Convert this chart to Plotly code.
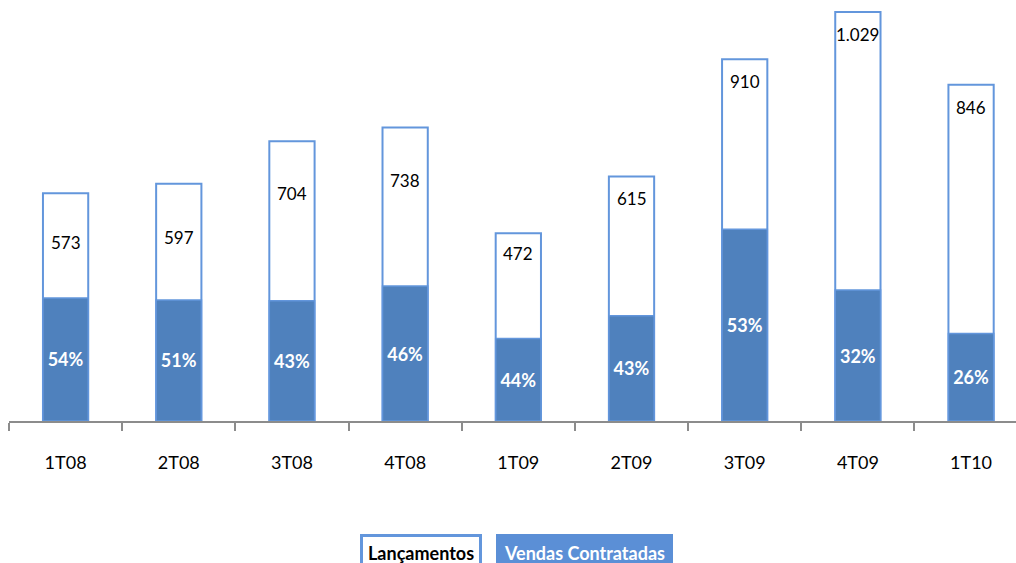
import plotly.graph_objects as go

# Quarterly launches (R$ million) and share of contracted sales
quarters = ["1T08", "2T08", "3T08", "4T08", "1T09", "2T09", "3T09", "4T09", "1T10"]
lancamentos = [573, 597, 704, 738, 472, 615, 910, 1029, 846]
vendas_pct = [54, 51, 43, 46, 44, 43, 53, 32, 26]

# Launch-value label drop below the top of each bar (px)
label_drop = [49, 54, 52, 53, 20, 22, 22, 23, 23]

BLUE = "#4F81BD"
EDGE = "#6396DC"
FONT = "Lato, 'Open Sans', sans-serif"

vendas = [l * p / 100 for l, p in zip(lancamentos, vendas_pct)]

def fmt_br(v):
    return f"{v:,}".replace(",", ".")

fig = go.Figure()
fig.add_trace(go.Bar(
    x=quarters, y=lancamentos, name="Lançamentos", width=0.4,
    marker=dict(color="white", line=dict(color=EDGE, width=2)),
    hoverinfo="skip",
))
fig.add_trace(go.Bar(
    x=quarters, y=vendas, name="Vendas Contratadas", width=0.4,
    marker=dict(color=BLUE, line=dict(color=EDGE, width=1.5)),
    text=[f"{p}%" for p in vendas_pct], textposition="inside",
    insidetextanchor="middle", textangle=0,
    textfont=dict(family=FONT, size=18, color="white", weight="bold"),
    hoverinfo="skip",
))

for q, l, d in zip(quarters, lancamentos, label_drop):
    fig.add_annotation(x=q, y=l, text=fmt_br(l), showarrow=False,
                       yanchor="middle", yshift=-d,
                       font=dict(family=FONT, size=17, color="black"))

# Legend drawn as boxed labels below the axis
W, H, L, T, B = 1016, 563, 9, 0, 142
pw, ph = W - L, H - T - B
def px_x(px):
    return (px - L) / pw
def px_y(py):
    return (H - B - py) / ph

fig.add_annotation(xref="paper", yref="paper", x=px_x(421), y=px_y(553),
                   xanchor="center", yanchor="middle",
                   text="<b>Lançamentos</b>", showarrow=False,
                   font=dict(family=FONT, size=18, color="black"),
                   bgcolor="white", bordercolor=EDGE, borderwidth=3, borderpad=5)
fig.add_annotation(xref="paper", yref="paper", x=px_x(584), y=px_y(553),
                   xanchor="center", yanchor="middle",
                   text="<b>Vendas Contratadas</b>", showarrow=False,
                   font=dict(family=FONT, size=18, color="white"),
                   bgcolor="#5B8FD6", bordercolor="#5B8FD6", borderwidth=3, borderpad=5)

fig.update_layout(
    width=W, height=H, margin=dict(l=L, r=0, t=T, b=B),
    barmode="overlay", showlegend=False,
    plot_bgcolor="white", paper_bgcolor="white",
    font=dict(family=FONT, size=18, color="black"),
)
fig.update_xaxes(
    range=[-0.5, 8.397], tickson="boundaries", ticks="outside", ticklen=8,
    tickcolor="#8C8C8C", tickwidth=1.5, showline=True, linecolor="#8C8C8C",
    linewidth=1.5, showgrid=False, ticklabelstandoff=25,
    tickfont=dict(family=FONT, size=18, color="black"),
)
fig.update_yaxes(range=[0, 1059], visible=False, showgrid=False)

fig.write_html("out.html")
